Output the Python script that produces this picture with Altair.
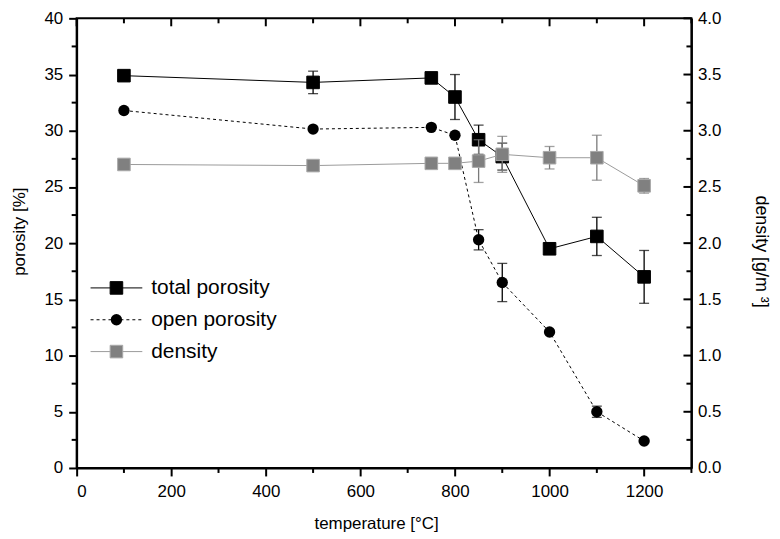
import altair as alt
import pandas as pd

# ---- data ----
temperature = [100, 500, 750, 800, 850, 900, 1000, 1100, 1200]
total_porosity = [34.9, 34.3, 34.7, 33.0, 29.2, 27.7, 19.5, 20.6, 17.0]
total_err = [0.45, 1.0, 0.45, 2.0, 1.3, 1.2, 0.4, 1.7, 2.35]
open_porosity = [31.8, 30.15, 30.3, 29.6, 20.3, 16.5, 12.1, 5.0, 2.4]
open_err = [0.0, 0.0, 0.0, 0.0, 0.9, 1.7, 0.0, 0.5, 0.0]
density = [2.70, 2.69, 2.71, 2.71, 2.73, 2.79, 2.76, 2.76, 2.51]
density_err = [0.0, 0.0, 0.0, 0.0, 0.19, 0.16, 0.10, 0.20, 0.065]

series_names = ["total porosity", "open porosity", "density"]

x_major = [0, 200, 400, 600, 800, 1000, 1200]
x_minor = [100, 300, 500, 700, 900, 1100, 1300]
y_major = [0, 5, 10, 15, 20, 25, 30, 35, 40]
y_minor = [2.5, 7.5, 12.5, 17.5, 22.5, 27.5, 32.5, 37.5]
d_major = [0.0, 0.5, 1.0, 1.5, 2.0, 2.5, 3.0, 3.5, 4.0]
d_minor = [0.25, 0.75, 1.25, 1.75, 2.25, 2.75, 3.25, 3.75]

W, H = 618, 452
FONT = "Liberation Sans"
GRAY_LINE = "#9a9a9a"
GRAY_MARK = "#808080"
SQ = 160
CI = 130

df = pd.DataFrame({
    "T": temperature,
    "total": total_porosity, "total_err": total_err,
    "open": open_porosity, "open_err": open_err,
    "dens": density, "dens_err": density_err,
})
for k in ["total", "open", "dens"]:
    df[k + "_lo"] = df[k] - df[k + "_err"]
    df[k + "_hi"] = df[k] + df[k + "_err"]

x_scale = alt.Scale(domain=[0, 1300], nice=False, zero=False)
yp_scale = alt.Scale(domain=[0, 40], nice=False)
yd_scale = alt.Scale(domain=[0, 4], nice=False)

x_axis = alt.Axis(values=x_major, format="d", tickSize=8, tickWidth=2, tickColor="black",
                  domainColor="black", domainWidth=2, labelFontSize=17,
                  labelColor="black", labelFont=FONT, labelPadding=8,
                  title="temperature [°C]", titleFont=FONT, titleFontSize=17,
                  titleFontWeight="normal", titleColor="black",
                  titleBaseline="middle", titleY=56, titleX=W / 2 - 8, grid=False)
yp_axis = alt.Axis(values=y_major, format="d", tickSize=8, tickWidth=2, tickColor="black",
                   domainColor="black", domainWidth=2, labelFontSize=17,
                   labelColor="black", labelFont=FONT, labelPadding=6,
                   title="porosity [%]", titleFont=FONT, titleFontSize=17,
                   titleFontWeight="normal", titleColor="black",
                   titleBaseline="middle", titleX=-57, titleY=H / 2 - 12, grid=False)
yd_axis = alt.Axis(orient="right", values=d_major, format=".1f", tickSize=0,
                   domainColor="black", domainWidth=2, labelFontSize=17,
                   labelColor="black", labelFont=FONT, labelPadding=6,
                   title="density    [g/m ³]", titleFont=FONT, titleFontSize=18,
                   titleFontWeight="normal", titleColor="black", titleAngle=90,
                   titleBaseline="middle", titleX=69, titleY=H / 2 + 8, grid=False)


def XE(field):
    return alt.X(field, scale=x_scale, axis=x_axis, title="temperature [°C]")


def series(col, color, dash, shape, size, err_color, line_color, stroke, scale, axis):
    base = alt.Chart(df)
    sub = df[df[col + "_err"] > 0]
    ebase = alt.Chart(sub)
    lkw = dict(color=line_color, strokeWidth=1)
    if dash:
        lkw["strokeDash"] = dash
    title = axis.title

    def Y(f):
        return alt.Y(f, scale=scale, axis=axis, title=title)

    line = base.mark_line(**lkw).encode(x=XE("T:Q"), y=Y(col + ":Q"))
    rule = ebase.mark_rule(color=err_color, strokeWidth=1.3).encode(
        x=XE("T:Q"), y=Y(col + "_lo:Q"), y2=col + "_hi:Q")
    cap_lo = ebase.mark_tick(orient="horizontal", color=err_color, size=10, thickness=1.3).encode(
        x=XE("T:Q"), y=Y(col + "_lo:Q"))
    cap_hi = ebase.mark_tick(orient="horizontal", color=err_color, size=10, thickness=1.3).encode(
        x=XE("T:Q"), y=Y(col + "_hi:Q"))
    if shape == "circle":
        pts = base.mark_circle(size=size, color=color, opacity=1).encode(
            x=XE("T:Q"), y=Y(col + ":Q"))
    else:
        pts = base.mark_point(shape="square", filled=True, size=size, fill=color,
                              stroke=stroke, strokeWidth=1, opacity=1).encode(
            x=XE("T:Q"), y=Y(col + ":Q"))
    return [line, rule, cap_lo, cap_hi, pts]


def tick_rules_x(vals, p1, p2):
    d = pd.DataFrame({"v": vals})
    return alt.Chart(d).mark_rule(color="black", strokeWidth=2).encode(
        x=XE("v:Q"), y=alt.value(p1), y2=alt.value(p2))


def tick_rules_y(vals, scale, axis, p1, p2):
    d = pd.DataFrame({"v": vals})
    return alt.Chart(d).mark_rule(color="black", strokeWidth=2).encode(
        y=alt.Y("v:Q", scale=scale, axis=axis, title=axis.title),
        x=alt.value(p1), x2=alt.value(p2))


# legend
legend_y = [271, 303, 335]
legend_style = [
    dict(line="black", dash=None, shape="square", fill="black", stroke="black"),
    dict(line="black", dash=[3, 3], shape="circle", fill="black", stroke="black"),
    dict(line=GRAY_LINE, dash=None, shape="square", fill=GRAY_MARK, stroke="#a8a8a8"),
]
legend_layers = []
for name, ly, st in zip(series_names, legend_y, legend_style):
    ld = pd.DataFrame({"label": [name]})
    rkw = dict(color=st["line"], strokeWidth=1)
    if st["dash"]:
        rkw["strokeDash"] = st["dash"]
    legend_layers.append(alt.Chart(ld).mark_rule(**rkw).encode(
        x=alt.value(14), x2=alt.value(66), y=alt.value(ly)))
    if st["shape"] == "circle":
        legend_layers.append(alt.Chart(ld).mark_circle(size=CI, color="black", opacity=1).encode(
            x=alt.value(40), y=alt.value(ly)))
    else:
        legend_layers.append(alt.Chart(ld).mark_point(shape="square", filled=True, size=SQ,
                                                      fill=st["fill"], stroke=st["stroke"],
                                                      strokeWidth=1, opacity=1).encode(
            x=alt.value(40), y=alt.value(ly)))
    legend_layers.append(alt.Chart(ld).mark_text(align="left", baseline="middle", font=FONT,
                                                 fontSize=21, color="black").encode(
        x=alt.value(75), y=alt.value(ly), text="label:N"))

por_layers = (
    [tick_rules_x(x_minor, H, H + 5),
     tick_rules_x(x_major, 0, 8),
     tick_rules_x(x_minor, 0, 5),
     tick_rules_y(y_minor, yp_scale, yp_axis, -5, 0)]
    + series("total", "black", None, "square", SQ, "black", "black", "black", yp_scale, yp_axis)
    + series("open", "black", [3, 3], "circle", CI, "black", "black", "black", yp_scale, yp_axis)
    + legend_layers
)
por = alt.layer(*por_layers)

den_layers = (
    [tick_rules_y(d_major, yd_scale, yd_axis, W - 8, W),
     tick_rules_y(d_minor, yd_scale, yd_axis, W - 5, W)]
    + series("dens", GRAY_MARK, None, "square", SQ, "#7a7a7a", GRAY_LINE, "#a8a8a8", yd_scale, yd_axis)
)
den = alt.layer(*den_layers)

chart = (
    alt.layer(por, den)
    .resolve_scale(y="independent")
    .properties(width=W, height=H,
                autosize=alt.AutoSizeParams(type="none"),
                padding={"left": 69, "top": 9, "right": 81, "bottom": 68})
    .configure(font=FONT)
    .configure_view(stroke="black", strokeWidth=2)
)

chart.save("out.html", embed_options={"renderer": "svg", "actions": False})
